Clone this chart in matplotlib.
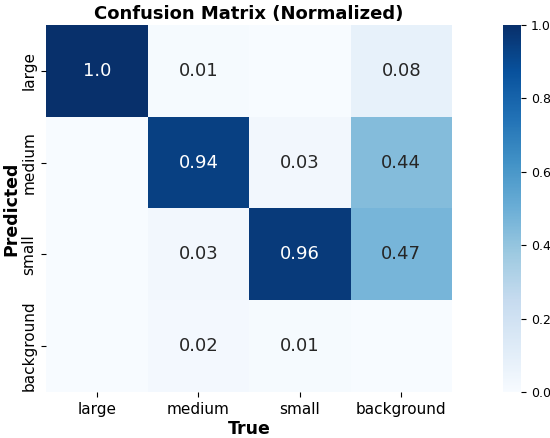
import numpy as np
import matplotlib
matplotlib.use('Agg')
import matplotlib.pyplot as plt
import seaborn as sns

classes = ['large', 'medium', 'small', 'background']
# rows = predicted, columns = true
row_large = [1.0, 0.01, 0.0, 0.08]
row_medium = [0.0, 0.94, 0.03, 0.44]
row_small = [0.0, 0.03, 0.96, 0.47]
row_background = [0.0, 0.02, 0.01, 0.0]

cm = np.array([row_large, row_medium, row_small, row_background])

# blank labels for zero cells
labels = np.array([['' if v == 0 else ('1.0' if v == 1 else f'{v:.2f}') for v in row] for row in cm])

fig = plt.figure(figsize=(5.5, 4.38), dpi=100)
ax = fig.add_axes([0.084, 0.105, 0.738, 0.838])
cax = fig.add_axes([0.915, 0.105, 0.033, 0.838])

sns.heatmap(cm, annot=labels, fmt='', cmap='Blues', vmin=0, vmax=1,
            xticklabels=classes, yticklabels=classes,
            annot_kws={'size': 13}, ax=ax, cbar_ax=cax)

ax.set_title('Confusion Matrix (Normalized)', fontsize=13, fontweight='bold', pad=4)
ax.set_xlabel('True', fontsize=12.5, fontweight='bold', labelpad=2)
ax.set_ylabel('Predicted', fontsize=12.5, fontweight='bold', labelpad=1)
ax.tick_params(axis='both', labelsize=11)
cax.tick_params(labelsize=9)

fig.savefig('out.png', dpi=100)
